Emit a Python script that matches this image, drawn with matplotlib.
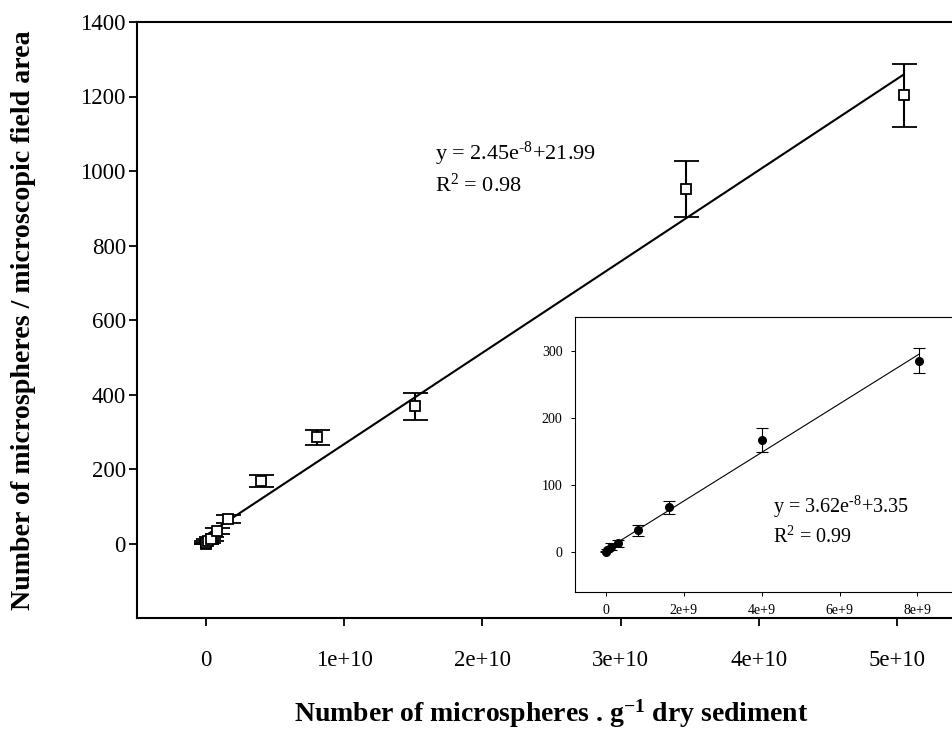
import numpy as np
import matplotlib
matplotlib.use("Agg")
import matplotlib.pyplot as plt

plt.rcParams['font.family'] = ['Liberation Serif', 'DejaVu Serif']
plt.rcParams['mathtext.fontset'] = 'custom'
plt.rcParams['mathtext.rm'] = 'Liberation Serif'
plt.rcParams['mathtext.it'] = 'Liberation Serif:italic'
plt.rcParams['mathtext.bf'] = 'Liberation Serif:bold'

# main panel data
x_main = [0, 3e7, 1.4e8, 3.2e8, 8.2e8, 1.6e9, 4.0e9, 8.0e9, 1.51e10, 3.47e10, 5.05e10]
y_main = [0, 2.5, 7.5, 12.6, 33, 66, 168, 285, 368, 951, 1203]
err_main = [2, 3, 5, 6, 8.5, 10, 17, 20, 37, 75, 84]
slope_main, icpt_main = 2.45e-8, 21.99

# inset data (low concentration range)
x_in = [0, 3e7, 1.36e8, 3.15e8, 8.2e8, 1.615e9, 4.02e9, 8.05e9]
y_in = [0, 2.5, 7.5, 12.6, 32, 66, 166, 285]
err_in = [1, 2, 5, 5, 8.5, 10, 18, 19]
slope_in, icpt_in = 3.62e-8, 3.35

xticks_main = [0, 1e10, 2e10, 3e10, 4e10, 5e10]
xlabels_main = ['0', '1e+10', '2e+10', '3e+10', '4e+10', '5e+10']
yticks_main = [0, 200, 400, 600, 800, 1000, 1200, 1400]
xticks_in = [0, 2e9, 4e9, 6e9, 8e9]
xlabels_in = ['0', '2e+9', '4e+9', '6e+9', '8e+9']
yticks_in = [0, 100, 200, 300]

W, H = 953, 732
fig = plt.figure(figsize=(W / 100, H / 100), dpi=100)

def px_axes(left, top, right, bottom):
    return [left / W, 1 - bottom / H, (right - left) / W, (bottom - top) / H]

ax = fig.add_axes(px_axes(137, 22, 966, 618))
ax.errorbar(x_main, y_main, yerr=err_main, fmt='s', mfc='white', mec='black',
            mew=1.3, ms=7, ecolor='black', elinewidth=1.5, capsize=9,
            capthick=1.5, zorder=3)
xf = np.array([0, max(x_main)])
ax.plot(xf, slope_main * xf + icpt_main, color='black', lw=1.5, zorder=2)
ax.set_xlim(-5e9, 5.5e10)
ax.set_ylim(-200, 1400)
ax.set_xticks(xticks_main)
ax.set_xticklabels(xlabels_main)
ax.set_yticks(yticks_main)
ax.tick_params(direction='out', length=6, width=1.3, labelsize=16.5)
ax.tick_params(axis='x', pad=17)
ax.tick_params(axis='y', pad=2)
for s in ax.spines.values():
    s.set_linewidth(1.5)
ax.text(1.66e10, 1030, r'y = 2.45e$^{\text{-8}}$+21.99', fontsize=16)
ax.text(1.66e10, 945, r'R$^{\mathrm{2}}$ = 0.98', fontsize=16)

fig.text(24 / W, 1 - 320 / H, 'Number of microspheres / microscopic field area',
         rotation=90, ha='center', va='center', fontsize=20.2, fontweight='bold')
fig.text(551 / W, 1 - 714 / H, r'Number of microspheres . g$^{\mathbf{-1}}$ dry sediment',
         ha='center', va='center', fontsize=20, fontweight='bold')

axin = fig.add_axes(px_axes(575, 317, 964, 592))
axin.set_facecolor('white')
axin.errorbar(x_in, y_in, yerr=err_in, fmt='o', color='black', ms=5.5,
              ecolor='black', elinewidth=0.8, capsize=4, capthick=0.8, zorder=3)
xf2 = np.array([0, max(x_in)])
axin.plot(xf2, slope_in * xf2 + icpt_in, color='black', lw=0.8, zorder=2)
axin.set_xlim(-8e8, 9.2e9)
axin.set_ylim(-60, 350)
axin.set_xticks(xticks_in)
axin.set_xticklabels(xlabels_in)
axin.set_yticks(yticks_in)
axin.tick_params(direction='out', length=3, width=0.7, labelsize=10, pad=6)
for s in axin.spines.values():
    s.set_linewidth(0.8)
axin.text(4.3e9, 58, r'y = 3.62e$^{\text{-8}}$+3.35', fontsize=14.5)
axin.text(4.3e9, 13, r'R$^{\mathrm{2}}$ = 0.99', fontsize=14.5)

fig.savefig('out.png', dpi=100)
